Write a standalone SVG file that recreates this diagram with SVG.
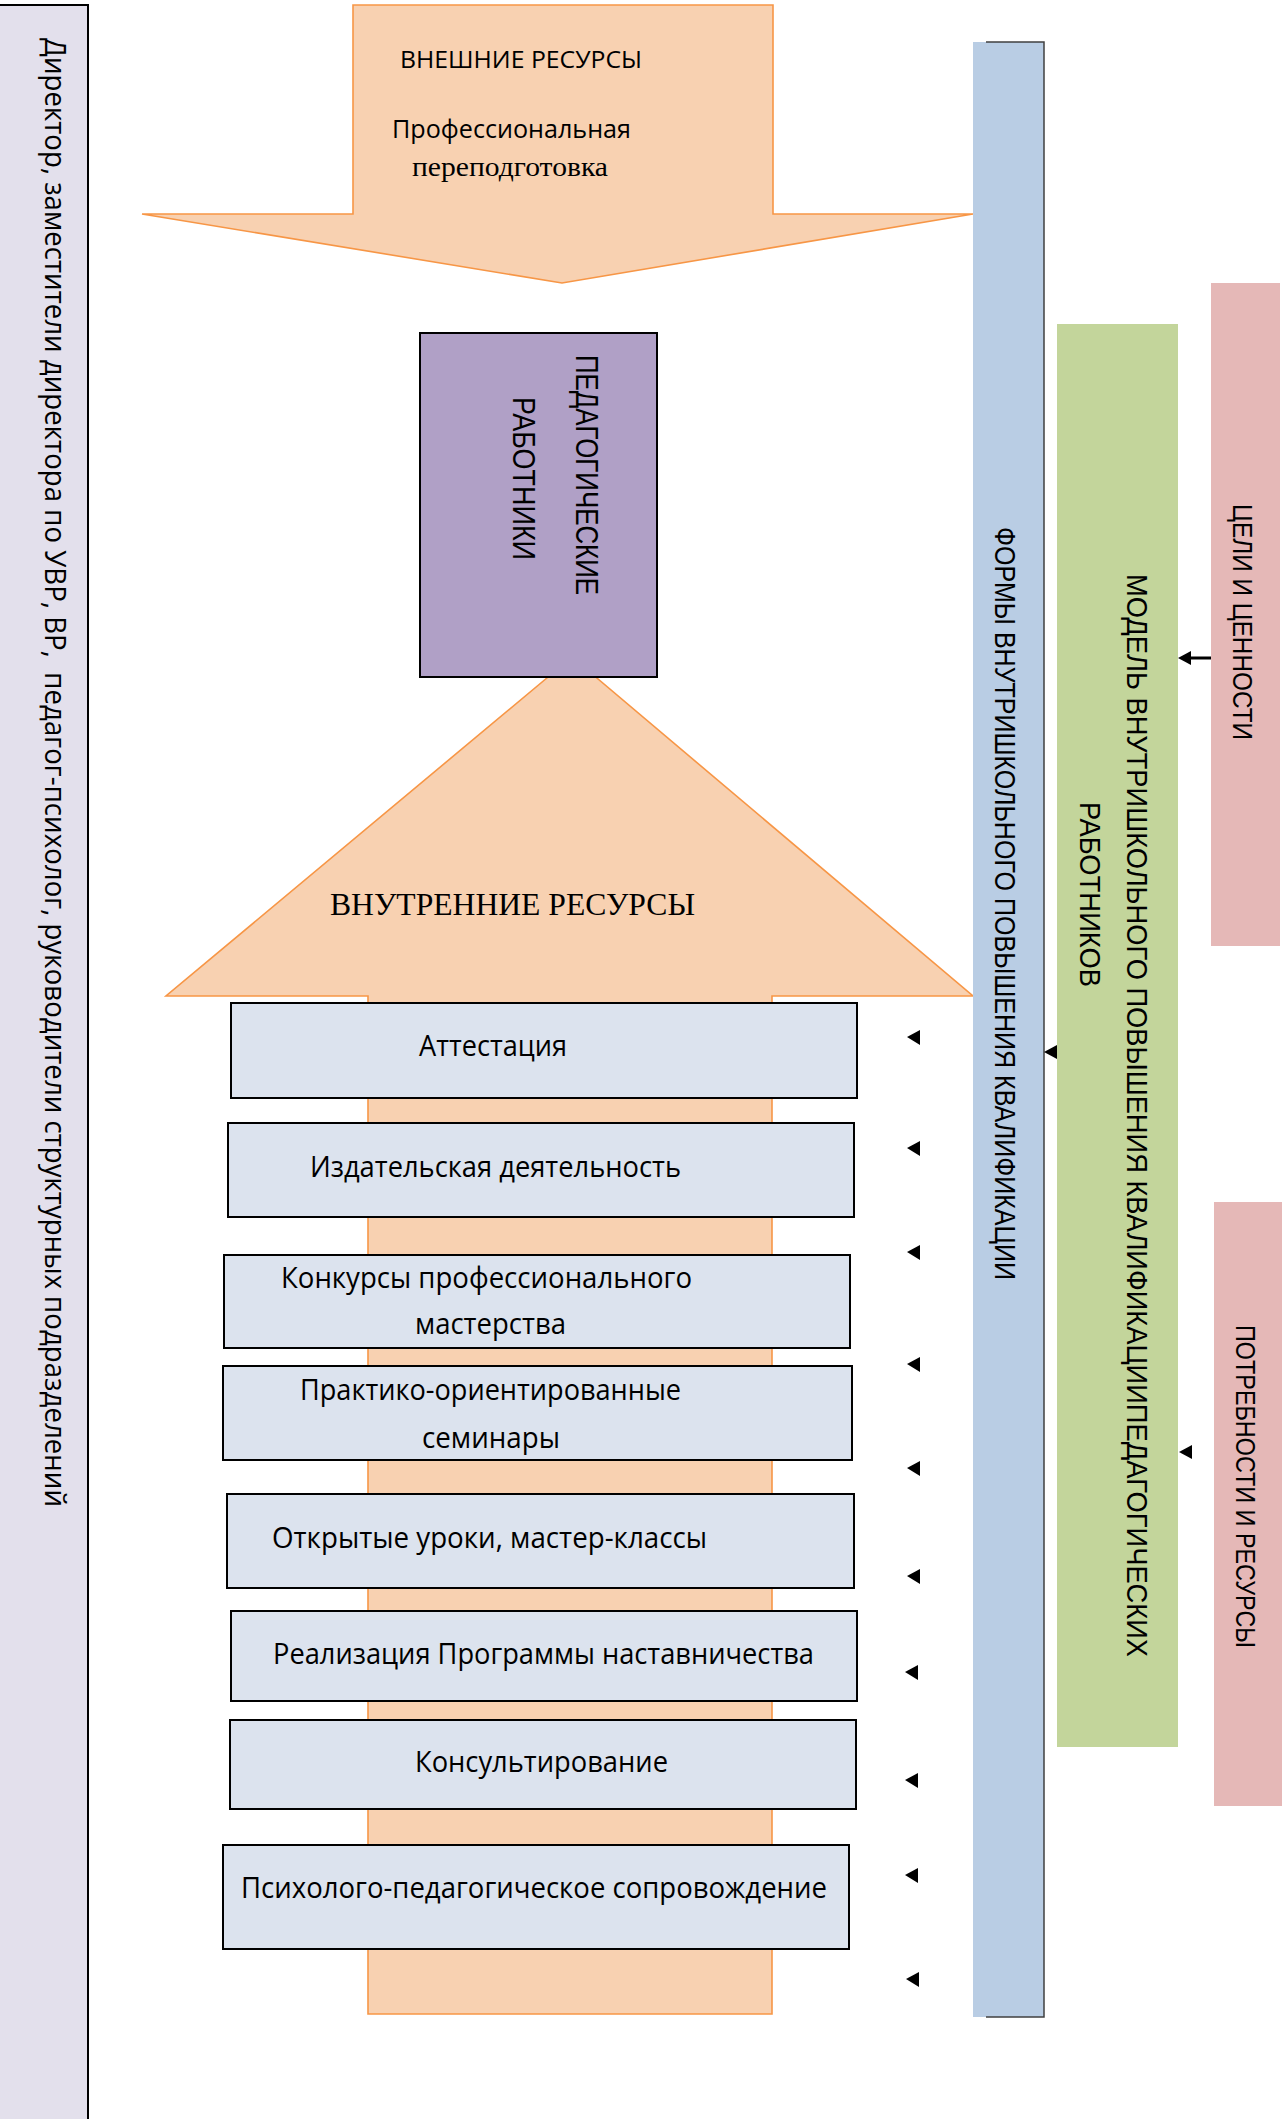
<svg xmlns="http://www.w3.org/2000/svg" width="1287" height="2119" viewBox="0 0 1287 2119">
<style>
.sans{font-family:"Open Sans","Noto Sans","Liberation Sans",sans-serif;fill:#000}
.arial{font-family:"Liberation Sans","Arimo",Arial,sans-serif;fill:#000}
.serif{font-family:"Liberation Serif","DejaVu Serif",serif;fill:#000}
.orange{fill:#f8d1b1;stroke:#f79646;stroke-width:1.6;stroke-linejoin:miter}
.box{fill:#dce3ee;stroke:#000;stroke-width:2}
.bt{font-size:28.5px}
.rt{font-size:30px}
.ah{fill:#000;stroke:none}
</style>
<rect width="1287" height="2119" fill="#fff"/>
<g id="left-panel">
<rect x="-2" y="5" width="90" height="2120" fill="#e3e0ec" stroke="#000" stroke-width="2"/>
<text class="sans" font-size="30" xml:space="preserve" transform="translate(45,38) rotate(90)" textLength="1469" lengthAdjust="spacingAndGlyphs">Директор, заместители директора по УВР, ВР,  педагог-психолог, руководители структурных подразделений</text>
</g>
<g id="external-resources">
<polygon class="orange" points="353,5 773,5 773,214 973,214 562,283 142,214 353,214"/>
<text class="sans" font-size="24" x="400" y="68" textLength="242" lengthAdjust="spacingAndGlyphs">ВНЕШНИЕ РЕСУРСЫ</text>
<text class="sans" font-size="25" x="392" y="138" textLength="239" lengthAdjust="spacingAndGlyphs">Профессиональная</text>
<text class="serif" font-size="27" x="412" y="176" textLength="196" lengthAdjust="spacingAndGlyphs">переподготовка</text>
</g>
<g id="internal-resources">
<polygon class="orange" points="572,657 166,996 368,996 368,2014 772,2014 772,996 973,996"/>
<text class="serif" font-size="31" x="330" y="915" textLength="365" lengthAdjust="spacingAndGlyphs">ВНУТРЕННИЕ РЕСУРСЫ</text>
</g>
<g id="ped-workers">
<rect x="420" y="333" width="237" height="344" fill="#b0a0c6" stroke="#000" stroke-width="2"/>
<text class="arial" font-size="31" transform="translate(576,355) rotate(90)" textLength="240" lengthAdjust="spacingAndGlyphs">ПЕДАГОГИЧЕСКИЕ</text>
<text class="arial" font-size="31" transform="translate(513,397) rotate(90)" textLength="163" lengthAdjust="spacingAndGlyphs">РАБОТНИКИ</text>
</g>
<g id="box-attestation">
<rect class="box" x="231" y="1003" width="626" height="95"/>
<text class="sans bt" x="419" y="1056" textLength="148" lengthAdjust="spacingAndGlyphs">Аттестация</text>
</g>
<g id="box-publishing">
<rect class="box" x="228" y="1123" width="626" height="94"/>
<text class="sans bt" x="310" y="1177" textLength="371" lengthAdjust="spacingAndGlyphs">Издательская деятельность</text>
</g>
<g id="box-contests">
<rect class="box" x="224" y="1255" width="626" height="93"/>
<text class="sans bt" x="281" y="1288" textLength="411" lengthAdjust="spacingAndGlyphs">Конкурсы профессионального</text>
<text class="sans bt" x="415" y="1334" textLength="151" lengthAdjust="spacingAndGlyphs">мастерства</text>
</g>
<g id="box-seminars">
<rect class="box" x="223" y="1366" width="629" height="94"/>
<text class="sans bt" x="300" y="1400" textLength="381" lengthAdjust="spacingAndGlyphs">Практико-ориентированные</text>
<text class="sans bt" x="422" y="1448" textLength="138" lengthAdjust="spacingAndGlyphs">семинары</text>
</g>
<g id="box-open-lessons">
<rect class="box" x="227" y="1494" width="627" height="94"/>
<text class="sans bt" x="272" y="1548" textLength="435" lengthAdjust="spacingAndGlyphs">Открытые уроки, мастер-классы</text>
</g>
<g id="box-mentoring">
<rect class="box" x="231" y="1611" width="626" height="90"/>
<text class="sans bt" x="273" y="1664" textLength="541" lengthAdjust="spacingAndGlyphs">Реализация Программы наставничества</text>
</g>
<g id="box-consulting">
<rect class="box" x="230" y="1720" width="626" height="89"/>
<text class="sans bt" x="415" y="1772" textLength="253" lengthAdjust="spacingAndGlyphs">Консультирование</text>
</g>
<g id="box-psych">
<rect class="box" x="223" y="1845" width="626" height="104"/>
<text class="sans bt" x="241" y="1898" textLength="586" lengthAdjust="spacingAndGlyphs">Психолого-педагогическое сопровождение</text>
</g>
<g id="forms-bar">
<rect x="973" y="42" width="71" height="1975" fill="#b9cde4"/>
<polyline points="986,42 1044,42 1044,2017 986,2017" fill="none" stroke="#404040" stroke-width="1.5"/>
<text class="arial rt" transform="translate(995,527) rotate(90)" textLength="753" lengthAdjust="spacingAndGlyphs">ФОРМЫ ВНУТРИШКОЛЬНОГО ПОВЫШЕНИЯ КВАЛИФИКАЦИИ</text>
</g>
<g id="model-bar">
<rect x="1057" y="324" width="121" height="1423" fill="#c3d59b"/>
<text class="arial rt" transform="translate(1127,574) rotate(90)" textLength="1083" lengthAdjust="spacingAndGlyphs">МОДЕЛЬ ВНУТРИШКОЛЬНОГО ПОВЫШЕНИЯ КВАЛИФИКАЦИИПЕДАГОГИЧЕСКИХ</text>
<text class="arial rt" transform="translate(1080,802) rotate(90)" textLength="185" lengthAdjust="spacingAndGlyphs">РАБОТНИКОВ</text>
</g>
<g id="goals-bar">
<rect x="1211" y="283" width="69" height="663" fill="#e5b8b7"/>
<text class="arial" font-size="28" transform="translate(1233,504) rotate(90)" textLength="236" lengthAdjust="spacingAndGlyphs">ЦЕЛИ И ЦЕННОСТИ</text>
</g>
<g id="needs-bar">
<rect x="1214" y="1202" width="68" height="604" fill="#e5b8b7"/>
<text class="arial" font-size="28" transform="translate(1236,1325) rotate(90)" textLength="323" lengthAdjust="spacingAndGlyphs">ПОТРЕБНОСТИ И РЕСУРСЫ</text>
</g>
<g id="connectors">
<line x1="1211" y1="658" x2="1189" y2="658" stroke="#000" stroke-width="3"/>
<path class="ah" d="M1178,658 L1191,651 L1191,665 Z"/>
<path class="ah" d="M1044,1052 L1057,1045 L1057,1059 Z"/>
<path class="ah" d="M1179,1452 L1192,1445 L1192,1459 Z"/>
<path class="ah" d="M907,1037 L920,1030 L920,1045 Z"/>
<path class="ah" d="M907,1148 L920,1141 L920,1156 Z"/>
<path class="ah" d="M907,1252 L920,1245 L920,1260 Z"/>
<path class="ah" d="M907,1364 L920,1357 L920,1372 Z"/>
<path class="ah" d="M907,1468 L920,1461 L920,1476 Z"/>
<path class="ah" d="M907,1576 L920,1569 L920,1584 Z"/>
<path class="ah" d="M905,1672 L918,1665 L918,1680 Z"/>
<path class="ah" d="M905,1780 L918,1773 L918,1788 Z"/>
<path class="ah" d="M905,1875 L918,1868 L918,1883 Z"/>
<path class="ah" d="M906,1979 L919,1972 L919,1987 Z"/>
</g>
</svg>
